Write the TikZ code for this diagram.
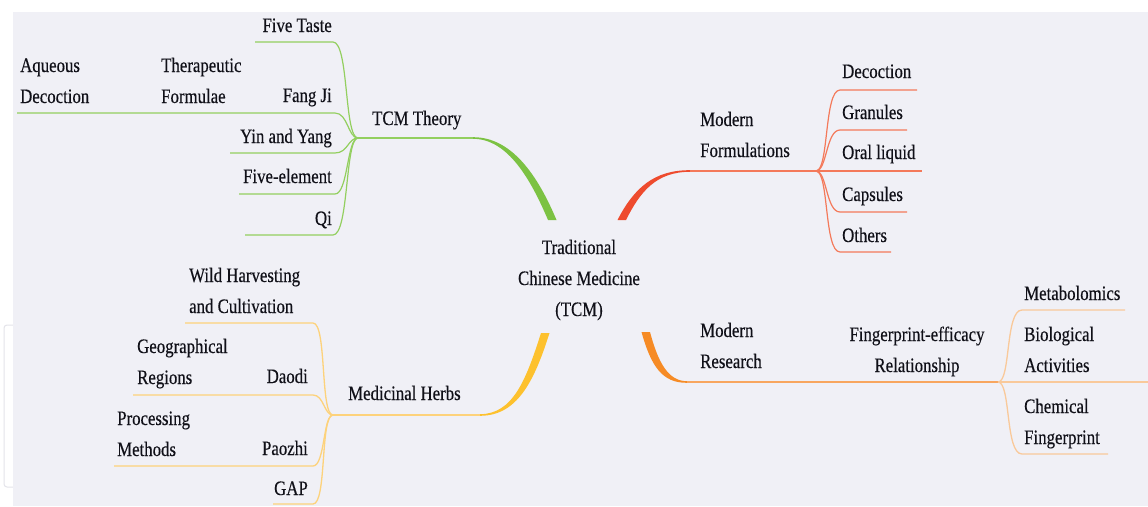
\documentclass[tikz,border=0pt]{standalone}
\usepackage{fontspec}
\setmainfont{Liberation Serif}[FakeStretch=0.82,FakeBold=0.35]
\newcommand\tcmfont{\fontsize{20.5}{31}\selectfont}
\definecolor{bgcol}{HTML}{F0F0F6}
\definecolor{boxcol}{HTML}{E4E4EA}
\definecolor{txtcol}{HTML}{101018}
\definecolor{gthick}{HTML}{7CC243}
\definecolor{gthin}{HTML}{93CF5F}
\definecolor{rthick}{HTML}{EE4B2E}
\definecolor{rthin}{HTML}{F4795A}
\definecolor{yth}{HTML}{FDC12E}
\definecolor{ythin}{HTML}{FDD27B}
\definecolor{oth}{HTML}{F68B25}
\definecolor{othin}{HTML}{F8A65F}
\definecolor{osub}{HTML}{F9C99A}
\tikzset{
  lbl/.style={font=\tcmfont, text=txtcol, inner sep=0pt},
  gl/.style={draw=gthin, line width=1.2pt},
  rl/.style={draw=rthin, line width=1.2pt},
  yl/.style={draw=ythin, line width=1.3pt},
  ol/.style={draw=othin, line width=1.3pt},
  osl/.style={draw=osub, line width=1.3pt},
}
\begin{document}
\begin{tikzpicture}[x=1pt,y=-1pt]
\useasboundingbox (0,0) rectangle (1148,506);
\fill[white] (0,0) rectangle (1148,506);
\draw[boxcol, line width=1pt, rounded corners=3pt] (4,325) rectangle (20,487);
\fill[bgcol] (13,12) rectangle (1148,506);

% coordinates
\coordinate (J1) at (358,138);
\coordinate (J2) at (816,171);
\coordinate (J3) at (333,415);
\coordinate (J4) at (998,382);
\coordinate (gTop) at (473,138);
\coordinate (rTop) at (690,171);
\coordinate (yBot) at (480,415);
\coordinate (oBot) at (687,382);

% thick main branches
\fill[gthick] (473,137.2) .. controls (512,137) and (538,176) .. (556.5,220)
  -- (548,220) .. controls (531,180) and (508,138.8) .. (473,138.8) -- cycle;
\fill[rthick] (690,170.2) .. controls (654,170) and (634,188) .. (617.5,220)
  -- (626,220) .. controls (640,192) and (656,171.8) .. (690,171.8) -- cycle;
\fill[yth] (541,333) -- (549.5,333) .. controls (534,382) and (517,415.8) .. (480,415.8)
  -- (480,414.2) .. controls (513,414) and (526,380) .. (541,333) -- cycle;
\fill[oth] (641.5,332) -- (650,332) .. controls (658,362) and (668,381.2) .. (687,381.2)
  -- (687,382.8) .. controls (662,383) and (651,366) .. (641.5,332) -- cycle;

% main thin lines
\draw[gl] (gTop) -- (J1);
\draw[rl] (rTop) -- (J2);
\draw[yl] (yBot) -- (J3);
\draw[ol] (oBot) -- (J4);

% green sub-branches
\coordinate (gE1) at (255,42);
\coordinate (gE2) at (17,113);
\coordinate (gE3) at (230,153);
\coordinate (gE4) at (239,194);
\coordinate (gE5) at (245,235);
\draw[gl] (J1) .. controls (344,138) and (349,42) .. (333,42) -- (gE1);
\draw[gl] (J1) .. controls (348,138) and (348,113) .. (335,113) -- (gE2);
\draw[gl] (J1) .. controls (348,138) and (348,153) .. (335,153) -- (gE3);
\draw[gl] (J1) .. controls (347,138) and (348,194) .. (335,194) -- (gE4);
\draw[gl] (J1) .. controls (345,138) and (349,235) .. (333,235) -- (gE5);

% red sub-branches
\coordinate (rE1) at (917,90);
\coordinate (rE2) at (907,130);
\coordinate (rE3) at (922,171);
\coordinate (rE4) at (907,212);
\coordinate (rE5) at (891,252);
\draw[rl] (J2) .. controls (829,171) and (824,90) .. (840,90) -- (rE1);
\draw[rl] (J2) .. controls (827,171) and (826,130) .. (840,130) -- (rE2);
\draw[rl] (J2) -- (rE3);
\draw[rl] (J2) .. controls (827,171) and (826,212) .. (840,212) -- (rE4);
\draw[rl] (J2) .. controls (829,171) and (824,252) .. (840,252) -- (rE5);

% yellow sub-branches
\coordinate (yE1) at (185,323);
\coordinate (yE2) at (133,395);
\coordinate (yE3) at (114,466);
\coordinate (yE4) at (273,504);
\draw[yl] (J3) .. controls (320,415) and (327,323) .. (313,323) -- (yE1);
\draw[yl] (J3) .. controls (324,415) and (324,395) .. (313,395) -- (yE2);
\draw[yl] (J3) .. controls (323,415) and (325,466) .. (313,466) -- (yE3);
\draw[yl] (J3) .. controls (320,415) and (327,504) .. (313,504) -- (yE4);

% orange sub-branches
\coordinate (oE1) at (1125,310);
\coordinate (oE2) at (1148,382);
\coordinate (oE3) at (1108,454);
\draw[osl] (J4) .. controls (1011,382) and (1005,310) .. (1022,310) -- (oE1);
\draw[osl] (J4) -- (oE2);
\draw[osl] (J4) .. controls (1011,382) and (1005,454) .. (1022,454) -- (oE3);

% labels
\node[lbl, anchor=base] (tcm) at (579,254) {\begin{tabular}[t]{@{}c@{}}Traditional\\Chinese Medicine\\(TCM)\end{tabular}};

\node[lbl, anchor=base west] (theory) at (372,125) {TCM Theory};
\node[lbl, anchor=base east] (taste) at (332,32) {Five Taste};
\node[lbl, anchor=base east] (fangji) at (332,102) {Fang Ji};
\node[lbl, anchor=base west] (thera) at (161,72) {\begin{tabular}[t]{@{}l@{}}Therapeutic\\Formulae\end{tabular}};
\node[lbl, anchor=base west] (aqueous) at (20,72) {\begin{tabular}[t]{@{}l@{}}Aqueous\\Decoction\end{tabular}};
\node[lbl, anchor=base east] (yin) at (332,143) {Yin and Yang};
\node[lbl, anchor=base east] (five) at (332,183) {Five-element};
\node[lbl, anchor=base east] (qi) at (332,225) {Qi};

\node[lbl, anchor=base west] (modform) at (700,126) {\begin{tabular}[t]{@{}l@{}}Modern\\Formulations\end{tabular}};
\node[lbl, anchor=base west] (decoc) at (842,78) {Decoction};
\node[lbl, anchor=base west] (gran) at (842,119) {Granules};
\node[lbl, anchor=base west] (oral) at (842,159) {Oral liquid};
\node[lbl, anchor=base west] (caps) at (842,201) {Capsules};
\node[lbl, anchor=base west] (others) at (842,242) {Others};

\node[lbl, anchor=base west] (herbs) at (348,400) {Medicinal Herbs};
\node[lbl, anchor=base west] (wild) at (189,282) {\begin{tabular}[t]{@{}l@{}}Wild Harvesting\\and Cultivation\end{tabular}};
\node[lbl, anchor=base west] (geo) at (137,353) {\begin{tabular}[t]{@{}l@{}}Geographical\\Regions\end{tabular}};
\node[lbl, anchor=base east] (daodi) at (308,383) {Daodi};
\node[lbl, anchor=base west] (proc) at (117,425) {\begin{tabular}[t]{@{}l@{}}Processing\\Methods\end{tabular}};
\node[lbl, anchor=base east] (paozhi) at (308,455) {Paozhi};
\node[lbl, anchor=base east] (gap) at (308,495) {GAP};

\node[lbl, anchor=base west] (modres) at (700,337) {\begin{tabular}[t]{@{}l@{}}Modern\\Research\end{tabular}};
\node[lbl, anchor=base] (fpeff) at (917,341) {\begin{tabular}[t]{@{}c@{}}Fingerprint-efficacy\\Relationship\end{tabular}};
\node[lbl, anchor=base west] (metab) at (1024,300) {Metabolomics};
\node[lbl, anchor=base west] (bio) at (1024,341) {\begin{tabular}[t]{@{}l@{}}Biological\\Activities\end{tabular}};
\node[lbl, anchor=base west] (chem) at (1024,413) {\begin{tabular}[t]{@{}l@{}}Chemical\\Fingerprint\end{tabular}};
\end{tikzpicture}
\end{document}
